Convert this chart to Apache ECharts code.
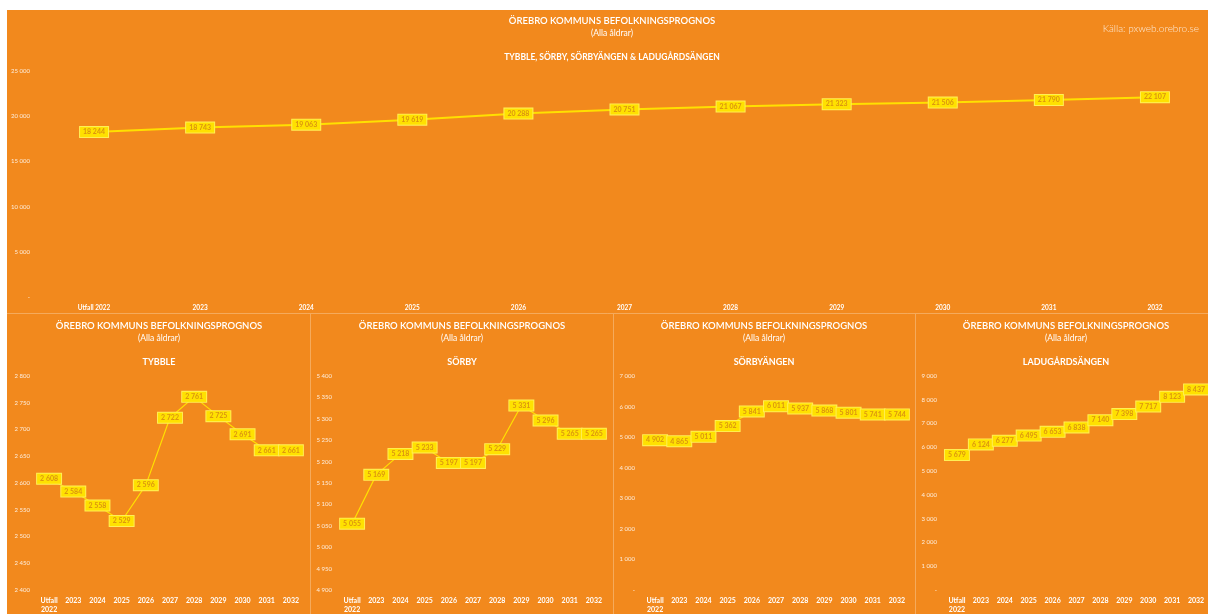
<!DOCTYPE html>
<html>
<head>
<meta charset="utf-8">
<script src="https://cdn.jsdelivr.net/npm/echarts@6/dist/echarts.min.js"></script>
<style>
html,body{margin:0;padding:0;background:#fff;width:1208px;height:614px;overflow:hidden;}
#bg{position:absolute;left:7px;top:10px;right:0;bottom:0;background:#F2891D;}
#chart{position:absolute;left:0;top:0;width:1208px;height:614px;}
</style>
</head>
<body>
<div id="bg"></div>
<div id="chart"></div>
<script>
const categoriesTop = ['Utfall 2022','2023','2024','2025','2026','2027','2028','2029','2030','2031','2032'];
const categoriesSmall = ['Utfall\n2022','2023','2024','2025','2026','2027','2028','2029','2030','2031','2032'];
const totalValues = [18244, 18743, 19063, 19619, 20288, 20751, 21067, 21323, 21506, 21790, 22107];
const tybbleValues = [2608, 2584, 2558, 2529, 2596, 2722, 2761, 2725, 2691, 2661, 2661];
const sorbyValues = [5055, 5169, 5218, 5233, 5197, 5197, 5229, 5331, 5296, 5265, 5265];
const sorbyangenValues = [4902, 4865, 5011, 5362, 5841, 6011, 5937, 5868, 5801, 5741, 5744];
const ladugardsangenValues = [5679, 6124, 6277, 6495, 6653, 6838, 7140, 7398, 7717, 8123, 8437];
const mainTitle = 'ÖREBRO KOMMUNS BEFOLKNINGSPROGNOS';
const subTitle = '(Alla åldrar)';
const topAreaTitle = 'TYBBLE, SÖRBY, SÖRBYÄNGEN & LADUGÅRDSÄNGEN';
const panelTitles = ['TYBBLE', 'SÖRBY', 'SÖRBYÄNGEN', 'LADUGÅRDSÄNGEN'];
const source = 'Källa: pxweb.orebro.se';

const FONT = 'Lato, "Open Sans", sans-serif';
function fmt(v){
  if (v === 0) return '-';
  return String(v).replace(/\B(?=(\d{3})+(?!\d))/g, ' ');
}

const grids = [
  {left: 41, width: 1169, top: 71, height: 226},
  {left: 37, width: 266, top: 376, height: 217},
  {left: 340, width: 266, top: 376, height: 217},
  {left: 643, width: 266, top: 376, height: 217},
  {left: 945, width: 266, top: 376, height: 217}
];
const yCfg = [
  {min: 0, max: 25000, interval: 5000, margin: 11},
  {min: 2400, max: 2800, interval: 50, margin: 7},
  {min: 4900, max: 5400, interval: 50, margin: 8},
  {min: 0, max: 7000, interval: 1000, margin: 8},
  {min: 0, max: 9000, interval: 1000, margin: 8}
];
const seriesData = [totalValues, tybbleValues, sorbyValues, sorbyangenValues, ladugardsangenValues];

const xAxes = grids.map((g, i) => ({
  type: 'category', gridIndex: i, boundaryGap: true,
  data: i === 0 ? categoriesTop : categoriesSmall,
  axisLine: {show: false}, axisTick: {show: false}, splitLine: {show: false},
  axisLabel: {color: '#fff', fontSize: i === 0 ? 6.5 : 7, fontWeight: 'bold', fontFamily: FONT, margin: 6, lineHeight: 9, interval: 0}
}));
const yAxes = grids.map((g, i) => ({
  type: 'value', gridIndex: i, min: yCfg[i].min, max: yCfg[i].max, interval: yCfg[i].interval,
  axisLine: {show: false}, axisTick: {show: false}, splitLine: {show: false},
  axisLabel: {color: 'rgba(255,255,255,0.85)', fontSize: 6, fontFamily: FONT, margin: yCfg[i].margin, formatter: fmt}
}));
const series = seriesData.map((d, i) => ({
  type: 'line', xAxisIndex: i, yAxisIndex: i, data: d,
  symbol: 'circle', symbolSize: 1, showSymbol: true, showAllSymbol: true, smooth: false,
  lineStyle: {color: '#FFE000', width: i === 0 ? 2 : 1.2},
  itemStyle: {color: '#FFE000'},
  labelLayout: {hideOverlap: false},
  label: {
    show: true, position: 'inside', formatter: p => fmt(p.value),
    backgroundColor: '#FFE100', borderColor: '#FFEF55', borderWidth: 1,
    padding: [2, 3, 1, 3], color: '#DB9410', fontSize: 7, fontWeight: 'bold', fontFamily: FONT
  },
  emphasis: {disabled: true},
  z: 3
}));

const graphics = [];
function txt(x, y, text, font, fill, align){
  graphics.push({type: 'text', x: x, y: y, silent: true, z: 10,
    style: {text: text, font: font, fill: fill || '#fff', align: align || 'center', verticalAlign: 'middle'}});
}
// separators
const sepColor = 'rgba(255,255,255,0.28)';
graphics.push({type: 'line', shape: {x1: 7, y1: 313.5, x2: 1208, y2: 313.5}, style: {stroke: sepColor, lineWidth: 1}, silent: true});
[310.5, 613.5, 915.5].forEach(x => graphics.push({type: 'line', shape: {x1: x, y1: 314, x2: x, y2: 614}, style: {stroke: sepColor, lineWidth: 1}, silent: true}));
// top titles
txt(612, 21, mainTitle, '600 9.5px ' + FONT);
txt(612, 33, subTitle, '400 8.5px ' + FONT);
txt(612, 57, topAreaTitle, 'bold 8.5px ' + FONT);
txt(1199, 29, source, '300 10px ' + FONT, 'rgba(255,255,255,0.8)', 'right');
// panel titles
const panelCenters = [159, 462, 764, 1066];
panelCenters.forEach((cx, i) => {
  txt(cx, 326, mainTitle, '600 9.5px ' + FONT);
  txt(cx, 338, subTitle, '400 8.5px ' + FONT);
  txt(cx, 362, panelTitles[i], 'bold 9px ' + FONT);
});

const chart = echarts.init(document.getElementById('chart'), null, {renderer: 'canvas'});
chart.setOption({
  backgroundColor: 'transparent',
  animation: false,
  grid: grids.map(g => Object.assign({containLabel: false}, g)),
  xAxis: xAxes,
  yAxis: yAxes,
  series: series,
  graphic: graphics
});
</script>
</body>
</html>
